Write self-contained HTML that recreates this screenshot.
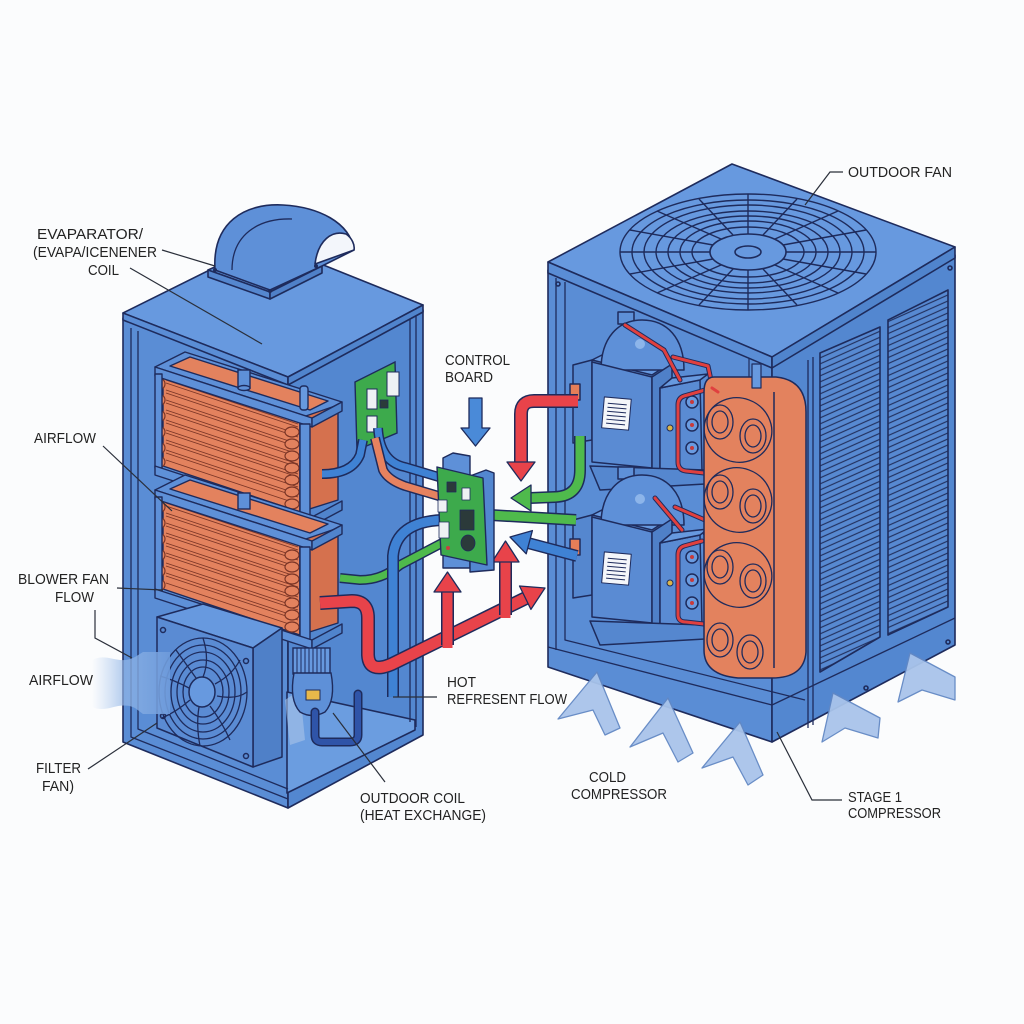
<!DOCTYPE html>
<html><head><meta charset="utf-8">
<style>
html,body{margin:0;padding:0;background:#fbfcfd;}
svg{display:block;}
text{font-family:"Liberation Sans",sans-serif;font-size:15px;fill:#222;}
</style></head><body>
<svg width="1024" height="1024" viewBox="0 0 1024 1024" xmlns="http://www.w3.org/2000/svg">
<defs>
 <pattern id="louv" width="20" height="6" patternUnits="userSpaceOnUse" patternTransform="skewY(-24)">
  <rect width="20" height="6" fill="#5789d1"/>
  <line x1="0" y1="3" x2="20" y2="3" stroke="#22305e" stroke-width="1.3"/>
 </pattern>
 <linearGradient id="air" x1="0" x2="1" y1="0" y2="0">
  <stop offset="0" stop-color="#a9c6ee" stop-opacity="0"/>
  <stop offset="0.45" stop-color="#8fb4e6" stop-opacity="0.75"/>
  <stop offset="1" stop-color="#6e9bdb" stop-opacity="0.9"/>
 </linearGradient>
 <g id="coil" stroke="#1e2b5c" stroke-width="1.4" stroke-linejoin="round">
  <polygon points="155,367 185,352 342,402 312,418" fill="#5e90d8"/>
  <polygon points="170,366 190,357 328,401 310,410" fill="#e3825e"/>
  <polygon points="163,372 300,418 300,512 163,466" fill="#e3825e"/>
  <polygon points="300,418 338,405 338,500 300,512" fill="#d5714e"/>
  <path d="M166,380 L298,424 M166,383 L298,427 M166,390 L298,434 M166,393 L298,437 M166,400 L298,444 M166,403 L298,447 M166,410 L298,454 M166,413 L298,457 M166,420 L298,464 M166,423 L298,467 M166,430 L298,474 M166,433 L298,477 M166,440 L298,484 M166,443 L298,487 M166,450 L298,494 M166,453 L298,497 M166,460 L298,504" stroke="#7a3526" stroke-width="0.9" fill="none"/>
  <g fill="#e3825e" stroke="#7a3526" stroke-width="1.2">
   <ellipse cx="161" cy="384" rx="4" ry="5"/><ellipse cx="161" cy="400" rx="4" ry="5"/>
   <ellipse cx="161" cy="416" rx="4" ry="5"/><ellipse cx="161" cy="432" rx="4" ry="5"/>
   <ellipse cx="161" cy="448" rx="4" ry="5"/><ellipse cx="161" cy="462" rx="4" ry="5"/>
   <ellipse cx="292" cy="432" rx="7" ry="5"/><ellipse cx="292" cy="444" rx="7" ry="5"/>
   <ellipse cx="292" cy="456" rx="7" ry="5"/><ellipse cx="292" cy="468" rx="7" ry="5"/>
   <ellipse cx="292" cy="480" rx="7" ry="5"/><ellipse cx="292" cy="492" rx="7" ry="5"/>
   <ellipse cx="292" cy="504" rx="7" ry="5"/>
  </g>
  <polygon points="155,367 312,418 312,427 155,376" fill="#5e90d8"/>
  <polygon points="312,418 342,402 342,411 312,427" fill="#5084cc"/>
  <rect x="300" y="424" width="10" height="94" fill="#5e90d8"/>
  <rect x="155" y="374" width="7" height="94" fill="#5e90d8"/>
  <polygon points="155,466 312,517 312,526 155,475" fill="#5e90d8"/>
  <polygon points="312,517 342,501 342,510 312,526" fill="#5084cc"/>
 </g>
 <g id="comp" stroke="#1e2b5c" stroke-width="1.5" stroke-linejoin="round">
  <polygon points="573,365 592,360 592,440 573,443" fill="#5587cf"/>
  <rect x="570" y="384" width="10" height="16" fill="#e57e58"/>
  <polygon points="592,360 612,350 672,362 652,375" fill="#6799df"/>
  <rect x="618" y="312" width="16" height="12" fill="#5e90d8"/>
  <path d="M601,370 C601,338 618,320 642,320 C667,320 684,338 684,370 Z" fill="#5e90d8"/>
  <circle cx="640" cy="344" r="5" fill="#8db5ea" stroke="none"/>
  <polygon points="592,362 652,377 652,468 592,462" fill="#5a8bd3"/>
  <polygon points="652,377 672,364 672,385 660,388 660,470 652,468" fill="#4f80c8"/>
  <polygon points="660,388 700,380 702,470 660,474" fill="#5a8bd3"/>
  <polygon points="660,388 672,378 708,374 700,380" fill="#6799df"/>
  <polygon points="590,466 705,470 705,484 600,490" fill="#5587cf"/>
  <g transform="rotate(5 616 413)">
   <rect x="603" y="398" width="27" height="31" fill="#f4f6fa" stroke-width="1"/>
   <path d="M607,404 H626 M607,408 H626 M607,412 H626 M607,416 H626 M607,420 H626 M607,424 H626" stroke-width="1"/>
  </g>
  <circle cx="670" cy="428" r="3" fill="#d9b44a" stroke-width="1"/>
  <g fill="#6a9be0">
   <circle cx="692" cy="402" r="6"/><circle cx="692" cy="425" r="6"/><circle cx="692" cy="448" r="6"/>
  </g>
  <g fill="#c83a3a" stroke="none">
   <circle cx="692" cy="402" r="2"/><circle cx="692" cy="425" r="2"/><circle cx="692" cy="448" r="2"/>
  </g>
 </g>
</defs>

<!-- ================= LEFT UNIT ================= -->
<g stroke="#1e2b5c" stroke-width="1.6" stroke-linejoin="round">
 <polygon points="123,318 288,383 288,808 123,742" fill="#5a8dd5"/>
 <polygon points="288,383 423,310 423,735 288,808" fill="#5387d0"/>
 <polygon points="287,692 415,720 415,730 287,793" fill="#6b9de0"/>
 <path d="M131,328 L131,737 L288,799 M138,331 L138,729 L288,789 M410,318 L410,722 M416,315 L416,727" fill="none" stroke-width="1.3"/>
 <polygon points="123,313 266,242 423,305 288,377" fill="#6799df"/>
 <polygon points="123,313 288,377 288,385 123,320" fill="#5a8dd5"/>
 <polygon points="288,377 423,305 423,312 288,385" fill="#5084cc"/>
 <polygon points="208,270 262,246 322,266 270,292" fill="#5e90d8"/>
 <polygon points="208,270 270,292 270,299 208,277" fill="#5587cf"/>
 <polygon points="270,292 322,266 322,273 270,299" fill="#4f80c8"/>
 <path d="M215,270 C212,222 245,203 283,205 C318,207 350,222 354,250 L322,266 L270,290 Z" fill="#5e90d8"/>
 <path d="M315,264 C318,240 332,230 346,234 C352,238 355,245 354,250 Z" fill="#f3f6fb"/>
 <path d="M232,270 C232,235 258,218 292,219" fill="none" stroke-width="1.3"/>
 <g fill="#1e2b5c" stroke="none"><circle cx="215" cy="270" r="2"/><circle cx="270" cy="291" r="2"/><circle cx="316" cy="266" r="2"/></g>
</g>

<use href="#coil"/>
<use href="#coil" transform="translate(0,123)"/>
<g stroke="#1e2b5c" stroke-width="1.4">
 <rect x="238" y="370" width="12" height="18" fill="#5e90d8"/>
 <ellipse cx="244" cy="388" rx="6" ry="2.5" fill="#5e90d8"/>
 <rect x="300" y="386" width="8" height="24" rx="3" fill="#6799df"/>
 <rect x="238" y="493" width="12" height="16" fill="#5e90d8"/>
</g>

<!-- fan box -->
<g stroke="#1e2b5c" stroke-width="1.5" stroke-linejoin="round">
 <polygon points="157,617 203,604 282,628 253,648" fill="#6799df"/>
 <polygon points="253,648 282,628 282,757 253,767" fill="#4f80c8"/>
 <polygon points="157,617 253,648 253,767 157,728" fill="#5a8bd3"/>
 <g fill="none" stroke-width="1.3">
  <ellipse cx="203" cy="692" rx="44" ry="54"/>
  <ellipse cx="203" cy="692" rx="38" ry="47"/>
  <ellipse cx="203" cy="692" rx="32" ry="40"/>
  <ellipse cx="203" cy="692" rx="26" ry="32"/>
  <ellipse cx="203" cy="692" rx="20" ry="25"/>
  <path d="M203,677 Q210,660 203,638 M215,684 Q232,675 240,660 M217,696 Q236,700 247,692 M210,706 Q222,722 230,740 M199,707 Q196,725 200,746 M190,700 Q176,712 162,718 M189,688 Q174,680 160,676 M196,678 Q186,664 176,650"/>
 </g>
 <ellipse cx="202" cy="692" rx="13" ry="15" fill="#6799df"/>
 <g fill="none"><circle cx="163" cy="630" r="2.5"/><circle cx="246" cy="661" r="2.5"/><circle cx="163" cy="716" r="2.5"/><circle cx="246" cy="756" r="2.5"/></g>
</g>
<path d="M92,660 C108,652 118,666 135,657 L143,652 L170,652 L170,714 L143,714 L135,708 C118,700 108,714 92,707 Z" fill="url(#air)"/>
<path d="M285,700 L300,690 L305,740 L290,745 Z" fill="#a8c3e8" opacity="0.6"/>

<!-- motor -->
<g stroke="#1e2b5c" stroke-width="1.4">
 <rect x="293" y="648" width="37" height="26" fill="#6799df"/>
 <path d="M297,648 v26 M301,648 v26 M305,648 v26 M309,648 v26 M313,648 v26 M317,648 v26 M321,648 v26 M325,648 v26" stroke-width="1"/>
 <path d="M294,673 Q289,700 300,712 Q312,719 325,712 Q336,700 331,673 Z" fill="#5e90d8"/>
 <rect x="306" y="690" width="14" height="10" fill="#e8b84a" stroke-width="1"/>
</g>
<path d="M358,694 L358,735 Q358,742 350,742 L322,742 Q315,742 315,735 L315,712" fill="none" stroke="#1e2b5c" stroke-width="9" stroke-linecap="round"/>
<path d="M358,694 L358,735 Q358,742 350,742 L322,742 Q315,742 315,735 L315,712" fill="none" stroke="#2f54a8" stroke-width="6" stroke-linecap="round"/>

<!-- small PCB -->
<g stroke="#1e2b5c" stroke-width="1.4">
 <polygon points="355,382 395,362 397,433 357,450" fill="#3daa4c"/>
 <rect x="367" y="389" width="10" height="20" fill="#eef1f4" stroke-width="1"/>
 <rect x="387" y="372" width="12" height="24" fill="#eef1f4" stroke-width="1"/>
 <rect x="367" y="416" width="10" height="16" fill="#eef1f4" stroke-width="1"/>
 <rect x="380" y="400" width="8" height="8" fill="#2b3a3a" stroke-width="0.8"/>
</g>

<!-- ================= RIGHT UNIT ================= -->
<g stroke="#1e2b5c" stroke-width="1.6" stroke-linejoin="round">
 <polygon points="548,270 772,365 772,742 548,667" fill="#5a8dd5"/>
 <polygon points="772,365 955,255 955,645 772,742" fill="#5387d0"/>
 <path d="M556,278 L556,650 M565,282 L565,640 L805,700 M548,647 L772,705 L955,618 M808,360 L808,728 M813,357 L813,725" fill="none" stroke-width="1.3"/>
 <polygon points="548,262 732,164 955,247 772,357" fill="#6799df"/>
 <polygon points="548,262 772,357 772,368 548,273" fill="#5a8dd5"/>
 <polygon points="772,357 955,247 955,258 772,368" fill="#5084cc"/>
 <g fill="none"><circle cx="558" cy="284" r="2"/><circle cx="950" cy="268" r="2"/><circle cx="866" cy="688" r="2"/><circle cx="948" cy="642" r="2"/></g>
 <polygon points="820,353 880,327 880,637 820,672" fill="url(#louv)"/>
 <polygon points="888,320 948,290 948,607 888,635" fill="url(#louv)"/>
 <g fill="none" stroke-width="1.4">
  <ellipse cx="748" cy="252" rx="128" ry="58"/>
  <ellipse cx="748" cy="252" rx="116" ry="52"/>
  <ellipse cx="748" cy="252" rx="104" ry="47"/>
  <ellipse cx="748" cy="252" rx="92" ry="41"/>
  <ellipse cx="748" cy="252" rx="80" ry="36"/>
  <ellipse cx="748" cy="252" rx="68" ry="31"/>
  <ellipse cx="748" cy="252" rx="56" ry="25"/>
  <path d="M786,252 L876,252 M783,259 L866,274 M775,265 L838,293 M763,269 L797,305 M748,270 L748,310 M733,269 L699,305 M721,265 L657,293 M713,259 L630,274 M710,252 L620,252 M713,245 L630,230 M721,239 L657,211 M733,235 L699,199 M748,234 L748,194 M763,235 L797,199 M775,239 L838,211 M783,245 L866,230"/>
 </g>
 <ellipse cx="748" cy="252" rx="38" ry="18" fill="#6799df"/>
 <ellipse cx="748" cy="252" rx="13" ry="6" fill="none"/>
 <path d="M749,358 v28" stroke-width="1.2"/>
</g>

<use href="#comp"/>
<use href="#comp" transform="translate(0,155)"/>

<g fill="none" stroke-linecap="round" stroke-linejoin="round">
 <path d="M625,325 L664,350 L680,380 M673,357 L708,366 L712,385 M712,388 L684,396 Q678,398 678,405 L678,462 Q678,470 686,471 L704,473" stroke="#1e2b5c" stroke-width="5"/>
 <path d="M625,325 L664,350 L680,380 M673,357 L708,366 L712,385 M712,388 L684,396 Q678,398 678,405 L678,462 Q678,470 686,471 L704,473" stroke="#e0403f" stroke-width="3"/>
 <path d="M655,498 L682,530 M702,541 L684,546 Q678,548 678,555 L678,615 Q678,622 686,622 L704,624" stroke="#1e2b5c" stroke-width="5"/>
 <path d="M655,498 L682,530 M702,541 L684,546 Q678,548 678,555 L678,615 Q678,622 686,622 L704,624" stroke="#e0403f" stroke-width="3"/>
 <path d="M675,507 L728,530 M705,533 L772,517" stroke="#1e2b5c" stroke-width="5"/>
 <path d="M705,533 L772,517" stroke="#e4e8f0" stroke-width="3"/>
 <path d="M675,507 L728,530" stroke="#e0403f" stroke-width="3"/>
</g>

<g stroke="#1e2b5c" stroke-width="1.5" stroke-linejoin="round">
 <path d="M714,377 L776,377 Q806,380 806,412 L806,652 Q804,678 772,678 L738,678 Q704,675 704,650 L704,392 Q704,377 714,377 Z" fill="#e3825e"/>
 <path d="M774,392 L774,668" fill="none"/>
 <rect x="752" y="364" width="9" height="24" fill="#6799df" stroke-width="1.2"/>
 <g fill="#e3825e" stroke-width="1.3">
  <ellipse cx="738" cy="430" rx="34" ry="32" transform="rotate(20 738 430)" fill="none"/>
  <ellipse cx="720" cy="422" rx="13" ry="17"/><ellipse cx="720" cy="422" rx="8" ry="11"/>
  <ellipse cx="753" cy="436" rx="13" ry="17"/><ellipse cx="753" cy="436" rx="8" ry="11"/>
  <ellipse cx="738" cy="500" rx="34" ry="32" transform="rotate(20 738 500)" fill="none"/>
  <ellipse cx="720" cy="492" rx="13" ry="17"/><ellipse cx="720" cy="492" rx="8" ry="11"/>
  <ellipse cx="753" cy="506" rx="13" ry="17"/><ellipse cx="753" cy="506" rx="8" ry="11"/>
  <ellipse cx="738" cy="575" rx="34" ry="32" transform="rotate(20 738 575)" fill="none"/>
  <ellipse cx="720" cy="567" rx="13" ry="17"/><ellipse cx="720" cy="567" rx="8" ry="11"/>
  <ellipse cx="753" cy="581" rx="13" ry="17"/><ellipse cx="753" cy="581" rx="8" ry="11"/>
  <ellipse cx="720" cy="640" rx="13" ry="17"/><ellipse cx="720" cy="640" rx="8" ry="11"/>
  <ellipse cx="750" cy="652" rx="13" ry="17"/><ellipse cx="750" cy="652" rx="8" ry="11"/>
 </g>
</g>
<g fill="none" stroke-linecap="round"><path d="M712,388 L718,392" stroke="#e0403f" stroke-width="3"/></g>

<g fill="#a9c4eb" stroke="#6288c4" stroke-width="1.3" stroke-linejoin="round" opacity="0.95">
 <polygon points="597,672 620,728 605,735 593,710 558,719"/>
 <polygon points="668,698 693,753 678,762 663,733 630,747"/>
 <polygon points="740,722 763,775 748,785 733,757 702,768"/>
 <polygon points="833,693 880,718 878,738 845,728 822,742"/>
 <polygon points="910,653 955,677 955,700 922,690 898,702"/>
</g>

<!-- ================= PIPES & ARROWS ================= -->
<g fill="none" stroke-linejoin="round">
 <path d="M322,474 Q352,474 360,455 L363,440" stroke="#1e2b5c" stroke-width="10"/>
 <path d="M322,474 Q352,474 360,455 L363,440" stroke="#3f82d4" stroke-width="7"/>
 <path d="M378,428 Q380,462 405,467 L442,478" stroke="#1e2b5c" stroke-width="10"/>
 <path d="M378,428 Q380,462 405,467 L442,478" stroke="#3f82d4" stroke-width="7"/>
 <path d="M375,438 L383,470 Q388,480 405,486 L442,497" stroke="#1e2b5c" stroke-width="10"/>
 <path d="M375,438 L383,470 Q388,480 405,486 L442,497" stroke="#e6825f" stroke-width="7"/>
 <path d="M340,578 L360,580 Q382,580 400,565 L442,543" stroke="#1e2b5c" stroke-width="10"/>
 <path d="M340,578 L360,580 Q382,580 400,565 L442,543" stroke="#4fba4c" stroke-width="7"/>
 <path d="M442,520 Q396,522 393,556 L393,697" stroke="#1e2b5c" stroke-width="12"/>
 <path d="M442,520 Q396,522 393,556 L393,697" stroke="#3f82d4" stroke-width="9"/>
 <path d="M320,603 L352,601 Q368,601 368,618 L368,655 Q369,674 392,664 L530,596" stroke="#1e2b5c" stroke-width="14"/>
 <path d="M320,603 L352,601 Q368,601 368,618 L368,655 Q369,674 392,664 L530,596" stroke="#e8434a" stroke-width="11"/>
 <path d="M447.5,645 L447.5,590 M505.5,615 L505.5,560" stroke="#1e2b5c" stroke-width="13"/>
 <path d="M447.5,648 L447.5,590 M505.5,618 L505.5,560" stroke="#e8434a" stroke-width="10"/>
 <path d="M578,401 L534,401 Q521,401 521,414 L521,463" stroke="#1e2b5c" stroke-width="14"/>
 <path d="M578,401 L534,401 Q521,401 521,414 L521,463" stroke="#e8434a" stroke-width="11"/>
 <path d="M580,436 L580,470 Q580,496 555,497 L530,498" stroke="#1e2b5c" stroke-width="12"/>
 <path d="M580,436 L580,470 Q580,496 555,497 L530,498" stroke="#4fba4c" stroke-width="9"/>
 <path d="M490,515 L576,520" stroke="#1e2b5c" stroke-width="12"/>
 <path d="M490,515 L576,520" stroke="#4fba4c" stroke-width="9"/>
 <path d="M577,556 L528,543" stroke="#1e2b5c" stroke-width="12"/>
 <path d="M577,556 L528,543" stroke="#3f82d4" stroke-width="9"/>
</g>
<g stroke="#1e2b5c" stroke-width="1.3" stroke-linejoin="round">
 <polygon points="545,588 519.5,586 530.9,609.4" fill="#e8434a"/>
 <polygon points="434,592 461,592 447.5,572" fill="#e8434a"/>
 <polygon points="492,562 519,562 505.5,541" fill="#e8434a"/>
 <polygon points="507,462 535,462 521,481" fill="#e8434a"/>
 <polygon points="531,485 531,511 511,498" fill="#4fba4c"/>
 <polygon points="510,537 532.4,530.6 526.2,553.8" fill="#3f82d4"/>
 <polygon points="469,398 482,398 482,428 490,428 475.5,446 461,428 469,428" fill="#4a8ad8"/>
</g>

<g stroke="#1e2b5c" stroke-width="1.4" stroke-linejoin="round">
 <polygon points="443,458 453,453 470,456 470,568 443,568" fill="#5e90d8"/>
 <polygon points="470,476 486,470 494,473 494,570 470,572" fill="#5387d0"/>
 <polygon points="437,467 483,478 487,565 441,555" fill="#3daa4c"/>
 <rect x="447" y="482" width="9" height="10" fill="#2b3a3a" stroke-width="0.8"/>
 <rect x="462" y="488" width="8" height="12" fill="#eef1f4" stroke-width="0.8"/>
 <rect x="438" y="500" width="9" height="12" fill="#eef1f4" stroke-width="0.8"/>
 <rect x="460" y="510" width="14" height="20" fill="#2b3a3a" stroke-width="0.8"/>
 <rect x="439" y="522" width="10" height="16" fill="#eef1f4" stroke-width="0.8"/>
 <ellipse cx="468" cy="543" rx="7" ry="8" fill="#2b3a3a" stroke-width="0.8"/>
 <circle cx="448" cy="548" r="2" fill="#c94040" stroke="none"/>
</g>

<g fill="none" stroke="#2a2f3a" stroke-width="1.2">
 <path d="M162,250 L215,266"/>
 <path d="M130,268 L262,344"/>
 <path d="M103,446 L172,511"/>
 <path d="M117,588 L163,590"/>
 <path d="M95,610 L95,638 L132,658"/>
 <path d="M88,769 L157,723"/>
 <path d="M393,697 L437,697"/>
 <path d="M385,782 L333,713"/>
 <path d="M843,172 L830,172 L805,205"/>
 <path d="M842,800 L812,800 L777,732"/>
</g>

<g>
 <text x="37" y="239" textLength="106" lengthAdjust="spacingAndGlyphs">EVAPARATOR/</text>
 <text x="33" y="257" textLength="124" lengthAdjust="spacingAndGlyphs">(EVAPA/ICENENER</text>
 <text x="88" y="275" textLength="31" lengthAdjust="spacingAndGlyphs">COIL</text>
 <text x="34" y="443" textLength="62" lengthAdjust="spacingAndGlyphs">AIRFLOW</text>
 <text x="18" y="584" textLength="91" lengthAdjust="spacingAndGlyphs">BLOWER FAN</text>
 <text x="55" y="602" textLength="39" lengthAdjust="spacingAndGlyphs">FLOW</text>
 <text x="29" y="685" textLength="64" lengthAdjust="spacingAndGlyphs">AIRFLOW</text>
 <text x="36" y="773" textLength="45" lengthAdjust="spacingAndGlyphs">FILTER</text>
 <text x="42" y="791" textLength="32" lengthAdjust="spacingAndGlyphs">FAN)</text>
 <text x="445" y="365" textLength="65" lengthAdjust="spacingAndGlyphs">CONTROL</text>
 <text x="445" y="382" textLength="48" lengthAdjust="spacingAndGlyphs">BOARD</text>
 <text x="447" y="687" textLength="29" lengthAdjust="spacingAndGlyphs">HOT</text>
 <text x="447" y="704" textLength="120" lengthAdjust="spacingAndGlyphs">REFRESENT FLOW</text>
 <text x="360" y="803" textLength="105" lengthAdjust="spacingAndGlyphs">OUTDOOR COIL</text>
 <text x="360" y="820" textLength="126" lengthAdjust="spacingAndGlyphs">(HEAT EXCHANGE)</text>
 <text x="589" y="782" textLength="37" lengthAdjust="spacingAndGlyphs">COLD</text>
 <text x="571" y="799" textLength="96" lengthAdjust="spacingAndGlyphs">COMPRESSOR</text>
 <text x="848" y="802" textLength="54" lengthAdjust="spacingAndGlyphs">STAGE 1</text>
 <text x="848" y="818" textLength="93" lengthAdjust="spacingAndGlyphs">COMPRESSOR</text>
 <text x="848" y="177" textLength="104" lengthAdjust="spacingAndGlyphs">OUTDOOR FAN</text>
</g>
</svg>
</body></html>
